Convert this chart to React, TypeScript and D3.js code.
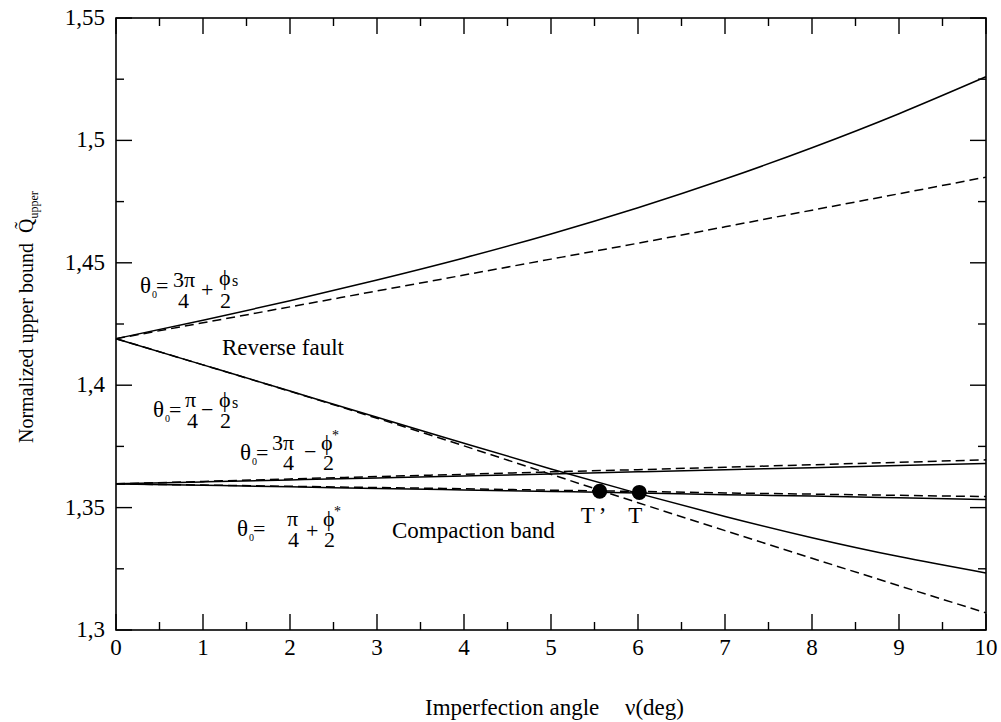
import React from "react";
import * as d3 from "d3";

// ---------- data ----------
const nu = [0, 1, 2, 3, 4, 5, 6, 7, 8, 9, 10];
// θ0 = 3π/4 + φs/2 (reverse fault, upper)
const reverseUpperSolid = [1.419, 1.4265, 1.4345, 1.443, 1.452, 1.4618, 1.4725, 1.4842, 1.497, 1.5109, 1.526];
const reverseUpperDashed = [1.419, 1.4255, 1.432, 1.4385, 1.445, 1.4515, 1.458, 1.4647, 1.4715, 1.4782, 1.485];
// θ0 = π/4 − φs/2 (reverse fault, lower)
const reverseLowerSolid = [1.419, 1.4083, 1.3976, 1.3869, 1.3763, 1.3658, 1.3558, 1.3464, 1.3377, 1.33, 1.3233];
const reverseLowerDashed = [1.419, 1.4083, 1.3975, 1.3865, 1.3752, 1.3636, 1.352, 1.3406, 1.3293, 1.3181, 1.307];
// θ0 = 3π/4 − φ*/2 (compaction band, upper)
const compUpperSolid = [1.3597, 1.3605, 1.3613, 1.3621, 1.3629, 1.3637, 1.3646, 1.3655, 1.3663, 1.3672, 1.368];
const compUpperDashed = [1.3597, 1.3607, 1.3617, 1.3627, 1.3636, 1.3646, 1.3655, 1.3665, 1.3675, 1.3685, 1.3695];
// θ0 = π/4 + φ*/2 (compaction band, lower)
const compLowerSolid = [1.3597, 1.3591, 1.3585, 1.3578, 1.3572, 1.3566, 1.356, 1.3553, 1.3547, 1.354, 1.3533];
const compLowerDashed = [1.3597, 1.3592, 1.3587, 1.3582, 1.3577, 1.3571, 1.3566, 1.356, 1.3555, 1.355, 1.3545];

const pointX = [5.56, 6.015];
const pointY = [1.3567, 1.3562];
const pointLabels = ["T", "T"];

const xTicks = [0, 1, 2, 3, 4, 5, 6, 7, 8, 9, 10];
const xMinorTicks = [0.5, 1.5, 2.5, 3.5, 4.5, 5.5, 6.5, 7.5, 8.5, 9.5];
const yTicks = [1.3, 1.35, 1.4, 1.45, 1.5, 1.55];
const yTickLabels = ["1,3", "1,35", "1,4", "1,45", "1,5", "1,55"];
const yMinorTicks = [1.325, 1.375, 1.425, 1.475, 1.525];

const W = 1001;
const H = 722;
const FONT = "'Liberation Serif', 'Times New Roman', Times, serif";

type Piece = { t: string; dx: number; dy: number; size?: number };

// one <text> per formula, each glyph group placed by its own tspan
function MathLabel({ x0, y0, pieces }: { x0: number; y0: number; pieces: Piece[] }) {
  return (
    <text fontFamily={FONT} fill="#000" fontSize={22}>
      {pieces.map((p, i) => (
        <tspan key={i} x={x0 + p.dx} y={y0 + p.dy} fontSize={p.size ?? 22}>
          {p.t}
        </tspan>
      ))}
    </text>
  );
}

export default function App() {
  const x = d3.scaleLinear().domain([0, 10]).range([116, 986]);
  const y = d3.scaleLinear().domain([1.3, 1.55]).range([630, 18]);
  const line = d3
    .line<number>()
    .x((_, i) => x(nu[i]))
    .y((d) => y(d))
    .curve(d3.curveNatural);

  const series = [
    { d: reverseUpperSolid, dash: false },
    { d: reverseUpperDashed, dash: true },
    { d: reverseLowerSolid, dash: false },
    { d: reverseLowerDashed, dash: true },
    { d: compUpperSolid, dash: false },
    { d: compUpperDashed, dash: true },
    { d: compLowerSolid, dash: false },
    { d: compLowerDashed, dash: true },
  ];

  const [x0, x1] = x.range();
  const [yb, yt] = y.range();
  const MAJ = 16;
  const MIN = 8;

  // anchor positions (data coords) for annotation labels
  const lab1 = { x: x(0.276), y: y(1.4376) };
  const lab2 = { x: x(0.425), y: y(1.3869) };
  const lab3 = { x: x(1.425), y: y(1.3694) };
  const lab4 = { x: x(1.39), y: y(1.3384) };

  const thetaParts = (): Piece[] => [
    { t: "θ", dx: 0, dy: 0, size: 23 },
    { t: "0", dx: 12, dy: 5, size: 10 },
    { t: "=", dx: 16, dy: 0, size: 22 },
  ];

  return (
    <svg
      width={W}
      height={H}
      style={{ position: "absolute", left: 0, top: 0, background: "#fff" }}
      viewBox={`0 0 ${W} ${H}`}
    >
      <rect x={0} y={0} width={W} height={H} fill="#fff" />
      {/* curves */}
      {series.map((s, i) => (
        <path
          key={i}
          d={line(s.d) || ""}
          fill="none"
          stroke="#000"
          strokeWidth={1.5}
          strokeDasharray={s.dash ? "9,5" : undefined}
        />
      ))}
      {/* frame */}
      <rect x={x0} y={yt} width={x1 - x0} height={yb - yt} fill="none" stroke="#000" strokeWidth={1.6} />
      {/* x ticks */}
      {xTicks.map((t) => (
        <g key={"xt" + t}>
          <line x1={x(t)} x2={x(t)} y1={yb} y2={yb - MAJ} stroke="#000" strokeWidth={1.4} />
          <line x1={x(t)} x2={x(t)} y1={yt} y2={yt + MAJ} stroke="#000" strokeWidth={1.4} />
          <text x={x(t)} y={655} textAnchor="middle" fontFamily={FONT} fontSize={23}>
            {t}
          </text>
        </g>
      ))}
      {xMinorTicks.map((t) => (
        <g key={"xm" + t}>
          <line x1={x(t)} x2={x(t)} y1={yb} y2={yb - MIN} stroke="#000" strokeWidth={1.4} />
          <line x1={x(t)} x2={x(t)} y1={yt} y2={yt + MIN} stroke="#000" strokeWidth={1.4} />
        </g>
      ))}
      {/* y ticks */}
      {yTicks.map((t, i) => (
        <g key={"yt" + t}>
          <line x1={x0} x2={x0 + MAJ} y1={y(t)} y2={y(t)} stroke="#000" strokeWidth={1.4} />
          <line x1={x1} x2={x1 - MAJ} y1={y(t)} y2={y(t)} stroke="#000" strokeWidth={1.4} />
          <text x={105} y={y(t) + 7} textAnchor="end" fontFamily={FONT} fontSize={23}>
            {yTickLabels[i]}
          </text>
        </g>
      ))}
      {yMinorTicks.map((t) => (
        <g key={"ym" + t}>
          <line x1={x0} x2={x0 + MIN} y1={y(t)} y2={y(t)} stroke="#000" strokeWidth={1.4} />
          <line x1={x1} x2={x1 - MIN} y1={y(t)} y2={y(t)} stroke="#000" strokeWidth={1.4} />
        </g>
      ))}
      {/* points */}
      {pointX.map((px, i) => (
        <circle key={"p" + i} cx={x(px)} cy={y(pointY[i])} r={7.5} fill="#000" />
      ))}
      <text x={x(pointX[0]) - 19} y={523} fontFamily={FONT} fontSize={23}>
        {pointLabels[0]}
        <tspan dx={4}>’</tspan>
      </text>
      <text x={x(pointX[1]) - 11} y={523} fontFamily={FONT} fontSize={23}>
        {pointLabels[1]}
      </text>

      {/* annotation labels */}
      <MathLabel
        x0={lab1.x}
        y0={lab1.y}
        pieces={[
          ...thetaParts(),
          { t: "3π", dx: 33, dy: -6 },
          { t: "4", dx: 38, dy: 15 },
          { t: "+", dx: 61, dy: 4 },
          { t: "ϕ", dx: 79, dy: -8 },
          { t: "s", dx: 92, dy: -7, size: 16 },
          { t: "2", dx: 80, dy: 15 },
        ]}
      />
      <text x={x(1.218)} y={y(1.4122)} fontFamily={FONT} fontSize={23}>
        Reverse fault
      </text>
      <MathLabel
        x0={lab2.x}
        y0={lab2.y}
        pieces={[
          ...thetaParts(),
          { t: "π", dx: 32, dy: -10 },
          { t: "4", dx: 34, dy: 11 },
          { t: "−", dx: 48, dy: 0 },
          { t: "ϕ", dx: 66, dy: -10 },
          { t: "s", dx: 79, dy: -9, size: 16 },
          { t: "2", dx: 67, dy: 11 },
        ]}
      />
      <MathLabel
        x0={lab3.x}
        y0={lab3.y}
        pieces={[
          ...thetaParts(),
          { t: "3π", dx: 32, dy: -10 },
          { t: "4", dx: 43, dy: 10 },
          { t: "−", dx: 64, dy: -1 },
          { t: "ϕ", dx: 81, dy: -10 },
          { t: "*", dx: 92, dy: -20, size: 14 },
          { t: "2", dx: 83, dy: 10 },
        ]}
      />
      <MathLabel
        x0={lab4.x}
        y0={lab4.y}
        pieces={[
          ...thetaParts(),
          { t: "π", dx: 50, dy: -10 },
          { t: "4", dx: 51, dy: 11 },
          { t: "+", dx: 69, dy: 2 },
          { t: "ϕ", dx: 86, dy: -10 },
          { t: "*", dx: 97, dy: -20, size: 14 },
          { t: "2", dx: 87, dy: 11 },
        ]}
      />
      <text x={x(3.172)} y={y(1.3376)} fontFamily={FONT} fontSize={23}>
        Compaction band
      </text>

      {/* axis titles */}
      <text x={425} y={715} fontFamily={FONT} fontSize={23}>
        Imperfection angle
        <tspan x={625}>ν(deg)</tspan>
      </text>
      <text
        transform="translate(33,443) rotate(-90)"
        fontFamily={FONT}
        fontSize={20}
        style={{ whiteSpace: "pre" }}
      >
        {"Normalized upper bound  Q\u0303"}
        <tspan fontSize={12} dy={5}>upper</tspan>
      </text>
    </svg>
  );
}
